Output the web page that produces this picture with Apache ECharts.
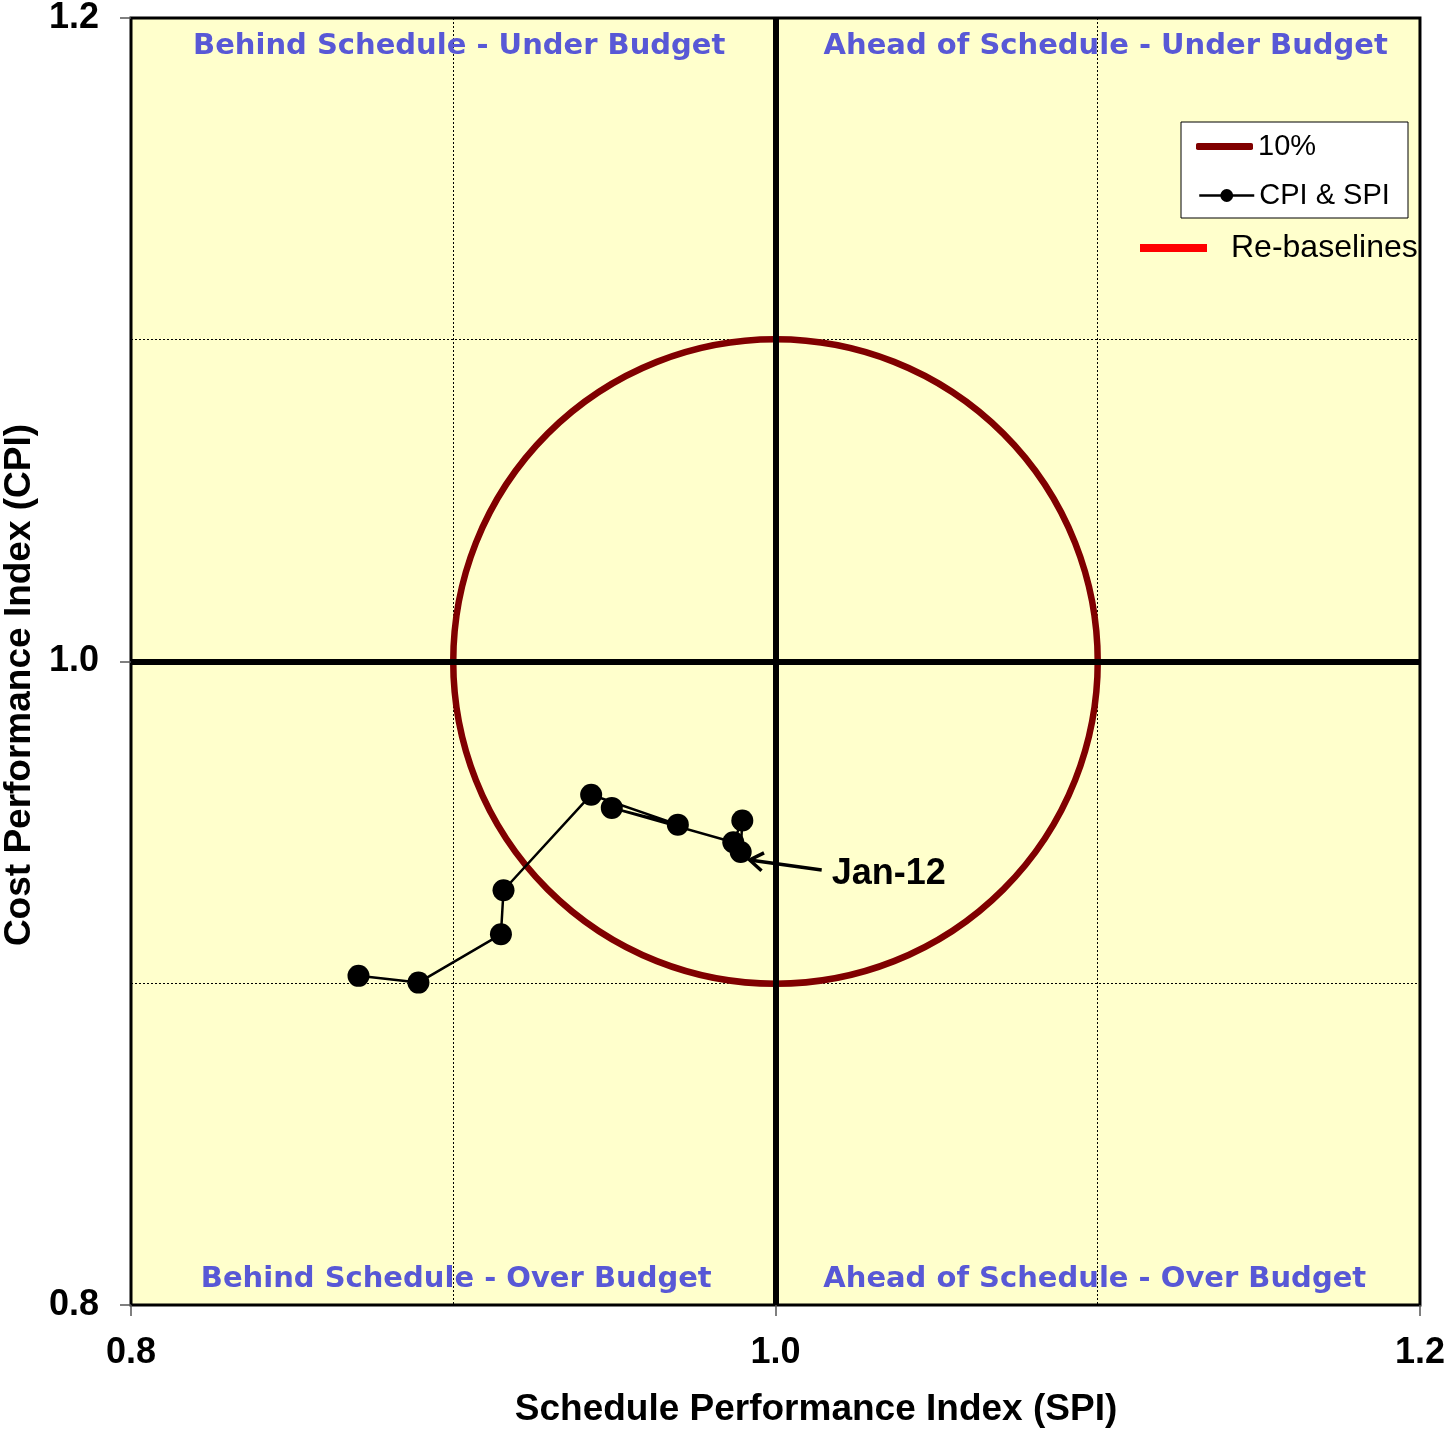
<!DOCTYPE html>
<html>
<head>
<meta charset="utf-8">
<script src="https://cdn.jsdelivr.net/npm/echarts@6/dist/echarts.min.js"></script>
<style>
  html, body { margin: 0; padding: 0; background: #fff; }
  #chart { width: 1448px; height: 1430px; }
</style>
</head>
<body>
<div id="chart"></div>
<script>
// monthly SPI / CPI readings, oldest first, last one is Jan-12
const spiValues = [0.8706, 0.8892, 0.9148, 0.9156, 0.9428, 0.9697, 0.9492, 0.9869, 0.9897, 0.9892]
const cpiValues = [0.9023, 0.9002, 0.9152, 0.9289, 0.9586, 0.9493, 0.9545, 0.9438, 0.9506, 0.9408]
const lastLabel = 'Jan-12'

const axisTicks = [0.8, 1.0, 1.2]
const target = { spi: 1.0, cpi: 1.0, radius: 0.1, name: '10%' }
const quadrantNames = [
  'Behind Schedule - Under Budget',
  'Ahead of Schedule - Under Budget',
  'Behind Schedule - Over Budget',
  'Ahead of Schedule - Over Budget'
]

const chart = echarts.init(document.getElementById('chart'))

const numFont = 'Liberation Sans, Arial, sans-serif'
const quadColor = '#5858d6'
const quadFont = { fontFamily: 'DejaVu Sans', fontWeight: 'bold', fontSize: 29, fill: quadColor }

const axisCommon = {
  type: 'value',
  min: axisTicks[0],
  max: axisTicks[axisTicks.length - 1],
  interval: axisTicks[1] - axisTicks[0],
  axisLine: { show: true, lineStyle: { color: '#000', width: 2 } },
  axisTick: { show: true, length: 11, lineStyle: { color: '#555', width: 1.5 } },
  minorTick: { show: false, splitNumber: 2 },
  splitLine: { show: false },
  minorSplitLine: { show: true, lineStyle: { color: '#000', width: 1, type: [2, 2] } },
  axisLabel: {
    color: '#000',
    fontFamily: numFont,
    fontWeight: 'bold',
    fontSize: 36,
    formatter: v => v.toFixed(1)
  }
}

const legendText = { fontFamily: 'Liberation Sans', fontSize: 29, color: '#000' }

const option = {
  backgroundColor: '#fff',
  animation: false,
  grid: {
    left: 131,
    right: 28,
    top: 16,
    bottom: 125,
    show: true,
    backgroundColor: '#ffffcc',
    borderColor: '#000',
    borderWidth: 3
  },
  xAxis: Object.assign({}, axisCommon, {
    axisLabel: Object.assign({}, axisCommon.axisLabel, { margin: 30 })
  }),
  yAxis: Object.assign({}, axisCommon, {
    axisLabel: Object.assign({}, axisCommon.axisLabel, { margin: 32 })
  }),
  legend: [
    {
      data: [{ name: target.name, icon: 'roundRect' }],
      left: 1191,
      top: 127,
      itemWidth: 57,
      itemHeight: 7,
      textStyle: legendText,
      z: 10
    },
    {
      data: ['CPI & SPI'],
      left: 1193,
      top: 176,
      itemWidth: 55,
      itemHeight: 16,
      lineStyle: { width: 2.5 },
      textStyle: legendText,
      z: 10
    },
    {
      data: [{ name: 'Re-baselines', icon: 'rect' }],
      left: 1135,
      top: 227,
      itemWidth: 67,
      itemHeight: 8,
      textStyle: Object.assign({}, legendText, { fontSize: 32, padding: [10, 0, 0, 19] }),
      z: 10
    }
  ],
  series: [
    {
      name: target.name,
      type: 'custom',
      coordinateSystem: 'cartesian2d',
      itemStyle: { color: '#800000' },
      data: [[target.spi, target.cpi, target.radius]],
      renderItem: (params, api) => {
        const c = api.coord([api.value(0), api.value(1)])
        const r = api.size([api.value(2), 0])[0]
        return {
          type: 'circle',
          shape: { cx: c[0], cy: c[1], r: r },
          style: { fill: 'none', stroke: '#800000', lineWidth: 6.5 },
          z2: 5
        }
      },
      markLine: {
        silent: true,
        symbol: 'none',
        label: { show: false },
        lineStyle: { color: '#000', width: 6, type: 'solid' },
        data: [{ xAxis: target.spi }, { yAxis: target.cpi }]
      },
      z: 3
    },
    {
      name: 'CPI & SPI',
      type: 'line',
      data: spiValues.map((s, i) => [s, cpiValues[i]]),
      symbol: 'circle',
      symbolSize: 22,
      itemStyle: { color: '#000' },
      lineStyle: { color: '#000', width: 2.5 },
      z: 4
    },
    {
      name: 'Re-baselines',
      type: 'line',
      data: [],
      symbol: 'none',
      itemStyle: { color: '#ff0000' },
      lineStyle: { color: '#ff0000', width: 6 }
    }
  ]
}

chart.setOption(option)

// annotations placed from the chart's own scales
const last = chart.convertToPixel({ seriesIndex: 1 }, [spiValues[spiValues.length - 1], cpiValues[cpiValues.length - 1]])
const tip = [last[0] + 9, last[1] + 8]
const tail = [last[0] + 81, last[1] + 18]
const dx = tail[0] - tip[0], dy = tail[1] - tip[1]
const len = Math.sqrt(dx * dx + dy * dy)
const ux = dx / len, uy = dy / len
const arm = (a) => [tip[0] + 16 * (ux * Math.cos(a) - uy * Math.sin(a)), tip[1] + 16 * (ux * Math.sin(a) + uy * Math.cos(a))]

const topLeft = chart.convertToPixel('grid', [0.9, 1.2])
const topRight = chart.convertToPixel('grid', [1.1, 1.2])
const botLeft = chart.convertToPixel('grid', [0.9, 0.8])
const botRight = chart.convertToPixel('grid', [1.1, 0.8])

chart.setOption({
  graphic: [
    {
      type: 'rect',
      shape: { x: 1181, y: 122, width: 227, height: 96 },
      style: { fill: '#fff', stroke: '#000', lineWidth: 1 },
      z: 5
    },
    { type: 'text', x: topLeft[0] + 6, y: topLeft[1] + 28, style: Object.assign({ text: quadrantNames[0], textAlign: 'center', textVerticalAlign: 'middle' }, quadFont), z: 6 },
    { type: 'text', x: topRight[0] + 8, y: topRight[1] + 28, style: Object.assign({ text: quadrantNames[1], textAlign: 'center', textVerticalAlign: 'middle' }, quadFont), z: 6 },
    { type: 'text', x: botLeft[0] + 3, y: botLeft[1] - 26, style: Object.assign({ text: quadrantNames[2], textAlign: 'center', textVerticalAlign: 'middle' }, quadFont), z: 6 },
    { type: 'text', x: botRight[0] - 3, y: botRight[1] - 26, style: Object.assign({ text: quadrantNames[3], textAlign: 'center', textVerticalAlign: 'middle' }, quadFont), z: 6 },
    {
      type: 'polyline',
      shape: { points: [tip, tail] },
      style: { stroke: '#000', lineWidth: 3.5, fill: 'none' },
      z: 7
    },
    {
      type: 'polyline',
      shape: { points: [arm(0.6), tip, arm(-0.6)] },
      style: { stroke: '#000', lineWidth: 3.5, fill: 'none' },
      z: 7
    },
    {
      type: 'text',
      x: tail[0] + 10,
      y: tail[1] + 4,
      style: { text: lastLabel, textAlign: 'left', textVerticalAlign: 'middle', fontFamily: 'Liberation Sans', fontWeight: 'bold', fontSize: 36, fill: '#000' },
      z: 7
    },
    {
      type: 'text',
      x: 816,
      y: 1410,
      style: { text: 'Schedule Performance Index (SPI)', textAlign: 'center', textVerticalAlign: 'middle', fontFamily: numFont, fontWeight: 'bold', fontSize: 37, fill: '#000' }
    },
    {
      type: 'text',
      x: 20,
      y: 685,
      rotation: Math.PI / 2,
      style: { text: 'Cost Performance Index (CPI)', textAlign: 'center', textVerticalAlign: 'middle', fontFamily: numFont, fontWeight: 'bold', fontSize: 37, fill: '#000' }
    }
  ]
})
</script>
</body>
</html>
